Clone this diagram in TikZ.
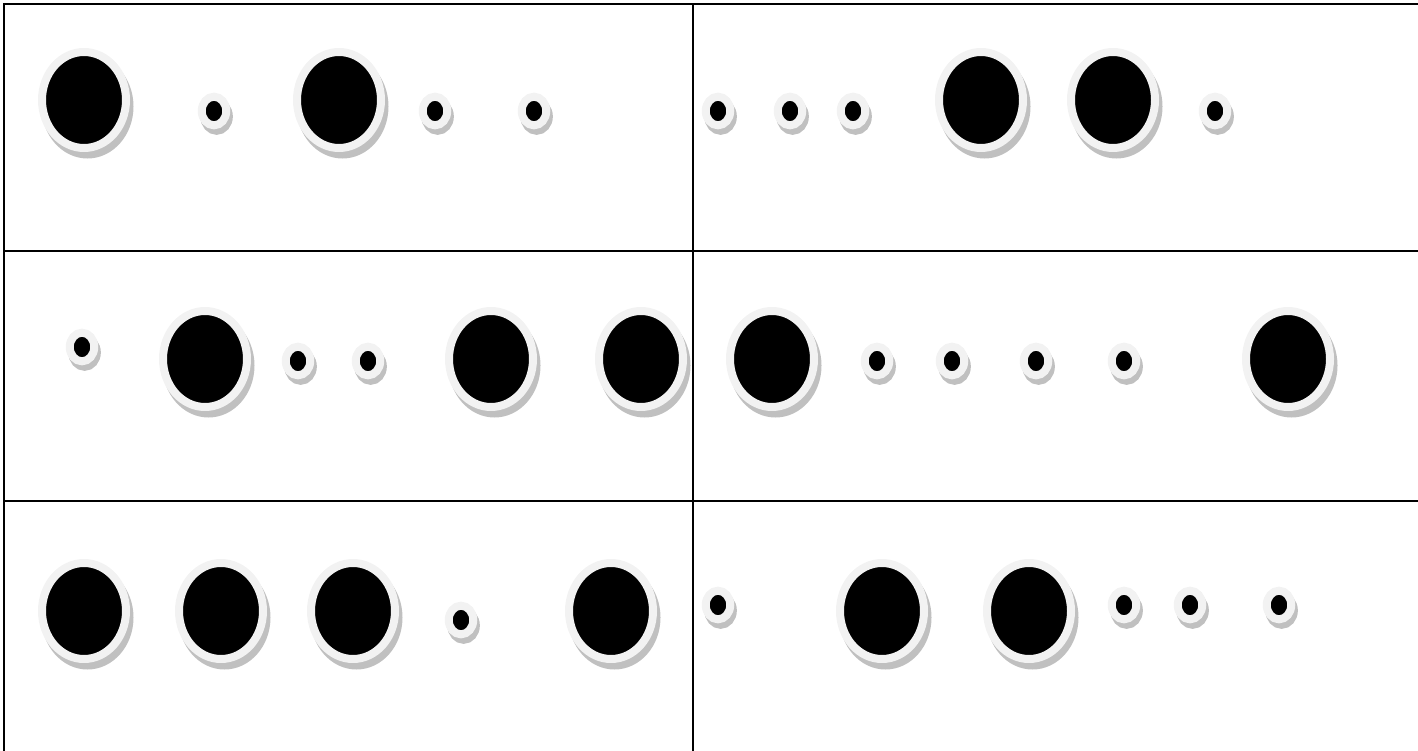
\documentclass[tikz,border=0pt]{standalone}
\usepackage{tikz}
\usetikzlibrary{shapes.geometric}
\definecolor{ringgray}{HTML}{F2F2F2}
\definecolor{shadowgray}{HTML}{C0C0C0}

\tikzset{
  bigdot/.style={ellipse,inner sep=0pt,minimum width=84pt,minimum height=96pt,
    fill=black,draw=ringgray,line width=8pt,
    preaction={draw=shadowgray,fill=shadowgray,transform canvas={shift={(3.5pt,-6.5pt)}}}},
  smalldot/.style={ellipse,inner sep=0pt,minimum width=24.5pt,minimum height=28.6pt,
    fill=black,draw=ringgray,line width=8pt,
    preaction={draw=shadowgray,fill=shadowgray,transform canvas={shift={(2.6pt,-5.5pt)}}}},
  rule/.style={line width=1.8pt}
}

\begin{document}
\begin{tikzpicture}[x=1pt,y=-1pt]
  \useasboundingbox (0,0) rectangle (1418,751);
  % table lines
  \draw[rule] (4,751) -- (4,4) -- (1418,4);
  \draw[rule] (4,251) -- (1418,251);
  \draw[rule] (4,501) -- (1418,501);
  \draw[rule] (693,4) -- (693,751);

  % first row, left
  \node[bigdot]   (a1) at (84,100) {};
  \node[smalldot] (a2) at (214,111) {};
  \node[bigdot]   (a3) at (339,100) {};
  \node[smalldot] (a4) at (435,111) {};
  \node[smalldot] (a5) at (534,111) {};
  % first row, right
  \node[smalldot] (b1) at (718,111) {};
  \node[smalldot] (b2) at (790,111) {};
  \node[smalldot] (b3) at (853,111) {};
  \node[bigdot]   (b4) at (981,100) {};
  \node[bigdot]   (b5) at (1113,100) {};
  \node[smalldot] (b6) at (1215,111) {};

  % second row, left
  \node[smalldot] (c1) at (82,347) {};
  \node[bigdot]   (c2) at (205,359) {};
  \node[smalldot] (c3) at (298,361) {};
  \node[smalldot] (c4) at (368,361) {};
  \node[bigdot]   (c5) at (491,359) {};
  \node[bigdot]   (c6) at (641,359) {};
  % second row, right
  \node[bigdot]   (d1) at (772,359) {};
  \node[smalldot] (d2) at (877,361) {};
  \node[smalldot] (d3) at (952,361) {};
  \node[smalldot] (d4) at (1036,361) {};
  \node[smalldot] (d5) at (1124,361) {};
  \node[bigdot]   (d6) at (1288,359) {};

  % third row, left
  \node[bigdot]   (e1) at (84,611) {};
  \node[bigdot]   (e2) at (221,611) {};
  \node[bigdot]   (e3) at (353,611) {};
  \node[smalldot] (e4) at (461,620) {};
  \node[bigdot]   (e5) at (611,611) {};
  % third row, right
  \node[smalldot] (f1) at (718,605) {};
  \node[bigdot]   (f2) at (882,611) {};
  \node[bigdot]   (f3) at (1029,611) {};
  \node[smalldot] (f4) at (1124,605) {};
  \node[smalldot] (f5) at (1190,605) {};
  \node[smalldot] (f6) at (1279,605) {};
\end{tikzpicture}
\end{document}
